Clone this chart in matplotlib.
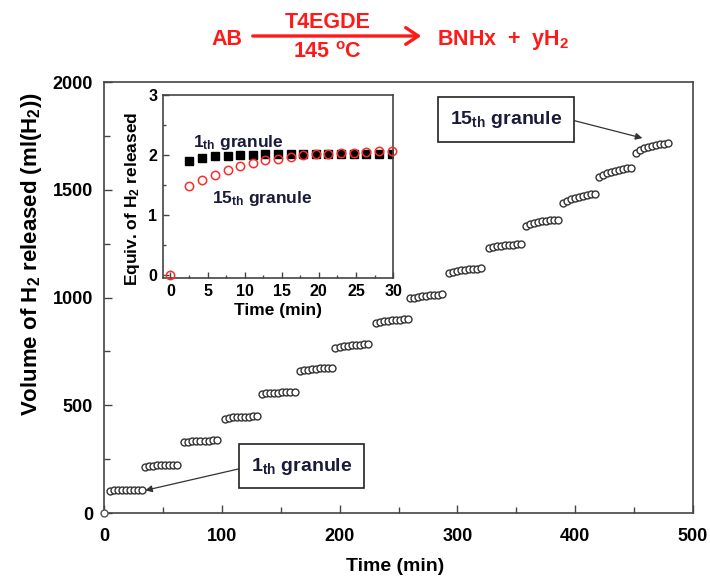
import matplotlib
matplotlib.use("Agg")
import matplotlib.pyplot as plt
from matplotlib.ticker import MultipleLocator

plt.rcParams['font.family'] = ['Liberation Sans', 'DejaVu Sans']
plt.rcParams['mathtext.default'] = 'regular'

# ---------------- data ----------------
# main plot: start time of each granule plateau (min) and offsets of points
granule_start = [4.7, 34.4, 68.3, 103.0, 134.5, 166.0, 196.5, 230.5, 260.0,
                 293.0, 327.0, 358.0, 389.5, 420.0, 451.5]
point_offsets = [0.0, 3.4, 6.8, 10.2, 13.6, 17.0, 20.4, 23.8, 27.2]
granule_volumes = [
    [104, 106, 107, 107, 108, 108, 108, 108, 108],
    [214, 218, 220, 222, 223, 224, 224, 225, 225],
    [328, 331, 333, 334, 335, 336, 336, 337, 337],
    [438, 442, 444, 445, 446, 447, 447, 448, 448],
    [552, 555, 557, 558, 559, 560, 560, 561, 561],
    [659, 663, 666, 668, 670, 671, 672, 673, 673],
    [768, 772, 775, 777, 779, 781, 782, 783, 784],
    [884, 888, 891, 893, 895, 897, 898, 899, 900],
    [996, 1000, 1004, 1007, 1009, 1011, 1013, 1014, 1015],
    [1114, 1119, 1123, 1126, 1129, 1131, 1133, 1134, 1135],
    [1228, 1233, 1237, 1240, 1242, 1244, 1246, 1247, 1248],
    [1334, 1341, 1346, 1350, 1354, 1357, 1359, 1361, 1362],
    [1440, 1450, 1457, 1463, 1468, 1472, 1476, 1479, 1481],
    [1560, 1570, 1578, 1584, 1589, 1593, 1596, 1599, 1601],
    [1672, 1684, 1693, 1700, 1705, 1709, 1712, 1714, 1716],
]
origin_time = [0]
origin_volume = [0]

# inset
inset_time_1st = [2.5, 4.3, 6.0, 7.7, 9.4, 11.1, 12.8, 14.5, 16.2, 17.9,
                  19.6, 21.3, 23.0, 24.7, 26.4, 28.1, 29.8]
inset_equiv_1st = [1.90, 1.95, 1.98, 1.99, 2.00, 2.00, 2.02, 2.02, 2.01, 2.01,
                   2.01, 2.01, 2.01, 2.01, 2.01, 2.01, 2.01]
inset_time_15th = [0.0, 2.5, 4.3, 6.0, 7.7, 9.4, 11.1, 12.8, 14.5, 16.2, 17.9,
                   19.6, 21.3, 23.0, 24.7, 26.4, 28.1, 29.8]
inset_equiv_15th = [0.0, 1.49, 1.59, 1.67, 1.75, 1.81, 1.86, 1.91, 1.94, 1.97,
                    2.00, 2.01, 2.02, 2.03, 2.04, 2.05, 2.06, 2.06]

main_xticks = [0, 100, 200, 300, 400, 500]
main_yticks = [0, 500, 1000, 1500, 2000]
inset_xticks = [0, 5, 10, 15, 20, 25, 30]
inset_yticks = [0, 1, 2, 3]

# ---------------- figure ----------------
W, H = 710, 580
fig = plt.figure(figsize=(7.1, 5.8), dpi=100)
ax = fig.add_axes([0.1465, 0.1155, 0.8296, 0.743])

spine_c = '#444444'
for s in ax.spines.values():
    s.set_color(spine_c)
    s.set_linewidth(1.2)

for t0, vols in zip(granule_start, granule_volumes):
    ts = [t0 + o for o in point_offsets]
    ax.plot(ts, vols, 'o', ms=5, mfc='white', mec='#333333', mew=1.0)
ax.plot(origin_time, origin_volume, 'o', ms=5, mfc='white', mec='#555555',
        mew=1.0, clip_on=False, zorder=5)

ax.set_xlim(0, 500)
ax.set_ylim(0, 2000)
ax.set_xticks(main_xticks)
ax.set_yticks(main_yticks)
ax.xaxis.set_minor_locator(MultipleLocator(50))
ax.yaxis.set_minor_locator(MultipleLocator(250))
ax.tick_params(which='both', direction='in', top=False, right=False,
               color=spine_c, width=1.0)
ax.tick_params(which='major', length=6, labelsize=13)
ax.tick_params(axis='x', which='major', pad=11)
ax.tick_params(axis='y', which='major', pad=8)
ax.tick_params(which='minor', length=4)
for lab in ax.get_xticklabels() + ax.get_yticklabels():
    lab.set_fontweight('bold')
ax.set_xlabel('Time (min)', fontsize=14, fontweight='bold')
ax.xaxis.set_label_coords(0.494, -0.105)
ax.set_ylabel('Volume of H$_2$ released (ml(H$_2$))', fontsize=16,
              fontweight='bold')
ax.yaxis.set_label_coords(-0.102, 0.60)

txt_c = '#1a1a3a'
box = dict(boxstyle='square,pad=0.6', fc='white', ec='#222222', lw=1.2)
arrow = dict(arrowstyle='-|>', color='#333333', lw=0.9, mutation_scale=10,
             shrinkA=0, shrinkB=0)
ax.annotate('1$_{th}$ granule', xy=(35, 105), xytext=(168, 218),
            fontsize=14, fontweight='bold', color=txt_c, ha='center',
            va='center', bbox=box, arrowprops=dict(arrow, relpos=(0, 0.5)))
ax.annotate('15$_{th}$ granule', xy=(457, 1740), xytext=(341, 1826),
            fontsize=14, fontweight='bold', color=txt_c, ha='center',
            va='center', bbox=box, arrowprops=dict(arrow, relpos=(1, 0.6)))

# ---------------- inset ----------------
ins = fig.add_axes([0.2296, 0.5207, 0.324, 0.3155])
for s in ins.spines.values():
    s.set_color(spine_c)
    s.set_linewidth(1.2)
ins.plot(inset_time_1st, inset_equiv_1st, 's', ms=5.5, mfc='black',
         mec='black', zorder=2)
ins.plot(inset_time_15th, inset_equiv_15th, 'o', ms=6, mfc='none',
         mec='#ff2a2a', mew=1.1, zorder=3, clip_on=False)
ins.set_xlim(-1, 30)
ins.set_ylim(-0.05, 3)
ins.set_xticks(inset_xticks)
ins.set_yticks(inset_yticks)
ins.xaxis.set_minor_locator(MultipleLocator(2.5))
ins.yaxis.set_minor_locator(MultipleLocator(0.5))
ins.tick_params(which='both', direction='in', color=spine_c, width=1.0)
ins.tick_params(which='major', length=4, labelsize=11.5, pad=4)
ins.tick_params(which='minor', length=2.5)
for lab in ins.get_xticklabels() + ins.get_yticklabels():
    lab.set_fontweight('bold')
ins.set_xlabel('Time (min)', fontsize=12.5, fontweight='bold', labelpad=3)
ins.set_ylabel('Equiv. of H$_2$ released', fontsize=12.5, fontweight='bold')
ins.yaxis.set_label_coords(-0.092, 0.43)
ins.text(0.13, 0.716, '1$_{th}$ granule', transform=ins.transAxes,
         fontsize=12.5, fontweight='bold', color=txt_c, ha='left',
         va='baseline')
ins.text(0.215, 0.41, '15$_{th}$ granule', transform=ins.transAxes,
         fontsize=12.5, fontweight='bold', color=txt_c, ha='left',
         va='baseline')

# ---------------- reaction scheme ----------------
red = '#ff1a1a'
fs_r = 15.5
fig.text(227 / W, 1 - 45 / H, 'AB', color=red, fontsize=fs_r,
         fontweight='bold', ha='center', va='baseline')
fig.text(328 / W, 1 - 28 / H, 'T4EGDE', color=red, fontsize=fs_r,
         fontweight='bold', ha='center', va='baseline')
fig.text(327 / W, 1 - 58 / H, '145 $^o$C', color=red, fontsize=fs_r,
         fontweight='bold', ha='center', va='baseline')
fig.text(437 / W, 1 - 45 / H, 'BNHx  +  yH$_2$', color=red,
         fontsize=fs_r, fontweight='bold', ha='left', va='baseline')
fig.patches.append(matplotlib.patches.FancyArrowPatch(
    (250 / W, 1 - 36 / H), (424 / W, 1 - 36 / H),
    transform=fig.transFigure, arrowstyle='->,head_length=0.45,head_width=0.3',
    mutation_scale=20, color=red, lw=2.4))

fig.savefig('out.png', dpi=100)
